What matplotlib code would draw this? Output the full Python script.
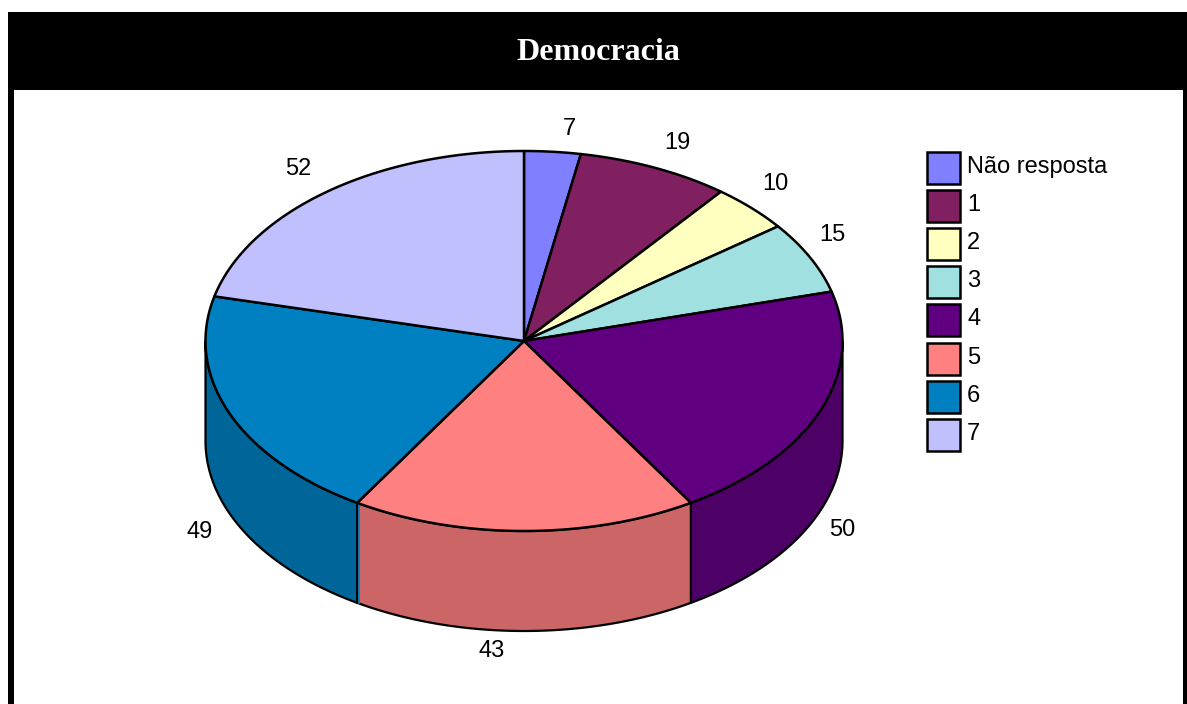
import numpy as np
import matplotlib
matplotlib.use('Agg')
import matplotlib.pyplot as plt
from matplotlib.patches import Polygon, Rectangle

plt.rcParams['font.family'] = ['Liberation Sans', 'DejaVu Sans']

title = 'Democracia'
categories = ['Não resposta', '1', '2', '3', '4', '5', '6', '7']
values = [7, 19, 10, 15, 50, 43, 49, 52]
colors = ['#8080FF', '#802060', '#FFFFC0', '#A0E0E0', '#600080', '#FF8080', '#0080C0', '#C0C0FF']
side_colors = ['#6666CC', '#661A4D', '#CCCC99', '#80B3B3', '#4D0066', '#CC6666', '#006699', '#9999CC']

# pie geometry, in pixels
cx, cy = 524, 341
rx, ry = 318.5, 190
depth = 100
label_xy = [(569, 129), (677, 143), (775, 184), (832, 235), (842, 530), (492, 651), (200, 532), (298, 169)]

fig = plt.figure(figsize=(11.87, 7.04), dpi=100, facecolor='white')
ax = fig.add_axes([0, 0, 1, 1])
ax.set_xlim(0, 1187)
ax.set_ylim(704, 0)
ax.axis('off')

# black frame and title band, open at the bottom
ax.add_patch(Rectangle((8, 12), 1179, 77.5, fc='black', ec='none'))
ax.add_patch(Rectangle((8, 12), 6, 692, fc='black', ec='none'))
ax.add_patch(Rectangle((1183, 12), 4, 692, fc='black', ec='none'))
ax.text(598, 52, title, color='white', fontsize=23, fontweight='bold',
        family=['Liberation Serif', 'DejaVu Serif'], ha='center', va='center')


def rim(a0, a1, dy=0):
    # angles run clockwise from the top of the ellipse
    t = np.radians(np.linspace(a0, a1, 120))
    return np.column_stack([cx + rx * np.sin(t), cy - ry * np.cos(t) + dy])


edges = np.cumsum([0] + values) / sum(values) * 360

# outer wall, only the front half shows
for i in range(len(values)):
    a0, a1 = max(edges[i], 90), min(edges[i + 1], 270)
    if a1 <= a0:
        continue
    top = rim(a0, a1)
    bottom = rim(a0, a1, depth)
    ax.add_patch(Polygon(np.vstack([top, bottom[::-1]]), closed=True, fc=side_colors[i],
                         ec='black', lw=1.6, joinstyle='round', zorder=2))

# small gap between the walls of 5 and 6
gap = rim(edges[6], edges[6])[0]
ax.plot([gap[0] + 1.8, gap[0] + 1.8], [gap[1] + 2, gap[1] + depth], color=colors[6], lw=1.3, zorder=3)

# top face
for i in range(len(values)):
    pts = np.vstack([[cx, cy], rim(edges[i], edges[i + 1])])
    ax.add_patch(Polygon(pts, closed=True, fc=colors[i], ec='black', lw=1.8,
                         joinstyle='round', zorder=4))

# value labels
for v, (x, y) in zip(values, label_xy):
    ax.text(x, y, str(v), fontsize=17, color='black', ha='center', va='center', zorder=5)

# legend
for i, (name, c) in enumerate(zip(categories, colors)):
    y = 151.5 + i * 38.2
    ax.add_patch(Rectangle((926.5, y), 33, 32, fc=c, ec='black', lw=1.8, zorder=5))
    ax.text(967, y + 15, name, fontsize=17, color='black', ha='left', va='center', zorder=5)

fig.savefig('out.png', dpi=100, facecolor='white')
